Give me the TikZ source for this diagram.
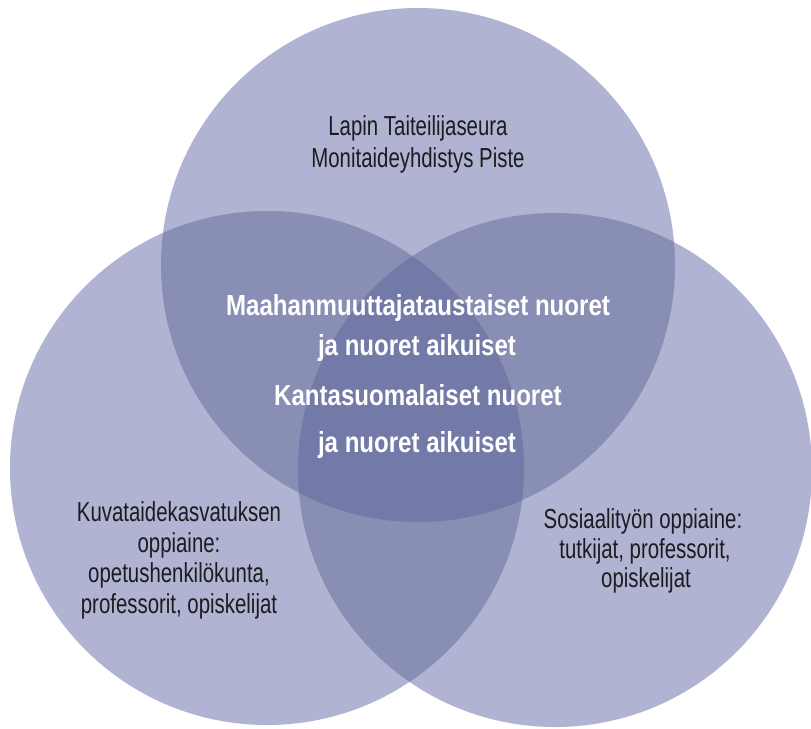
\documentclass[tikz,border=0pt]{standalone}
\usepackage{fontspec}
\setmainfont{Liberation Sans}[FakeStretch=0.742]
\newfontfamily\boldfnt{Liberation Sans}[FakeStretch=0.83]
\definecolor{cone}{RGB}{177,179,210}
\definecolor{ctwo}{RGB}{137,142,181}
\definecolor{cthree}{RGB}{115,122,167}
\definecolor{txt}{RGB}{28,28,32}
\tikzset{
  lbl/.style={anchor=base, inner sep=0pt, text=txt, font=\fontsize{27.5bp}{30bp}\selectfont},
  blbl/.style={anchor=base, inner sep=0pt, text=white, font=\boldfnt\bfseries\fontsize{29bp}{32bp}\selectfont},
}
\begin{document}
\begin{tikzpicture}[x=1bp,y=-1bp]
\clip (0,0) rectangle (811,729);
\coordinate (T) at (418,265);
\coordinate (L) at (267,468);
\coordinate (R) at (555,470);
\def\rr{257bp}
% single
\fill[cone] (T) circle[radius=\rr];
\fill[cone] (L) circle[radius=\rr];
\fill[cone] (R) circle[radius=\rr];
% pairs
\begin{scope}
  \clip (T) circle[radius=\rr];
  \fill[ctwo] (L) circle[radius=\rr];
  \fill[ctwo] (R) circle[radius=\rr];
\end{scope}
\begin{scope}
  \clip (L) circle[radius=\rr];
  \fill[ctwo] (R) circle[radius=\rr];
\end{scope}
% triple
\begin{scope}
  \clip (T) circle[radius=\rr];
  \clip (L) circle[radius=\rr];
  \fill[cthree] (R) circle[radius=\rr];
\end{scope}
% top texts
\node[lbl] (t1) at (418,136) {Lapin Taiteilijaseura};
\node[lbl] (t2) at (418,167) {Monitaideyhdistys Piste};
% center texts
\node[blbl] (c1) at (418,315) {Maahanmuuttajataustaiset nuoret};
\node[blbl] (c2) at (417,355) {ja nuoret aikuiset};
\node[blbl] (c3) at (418,405) {Kantasuomalaiset nuoret};
\node[blbl] (c4) at (417,452) {ja nuoret aikuiset};
% left texts
\node[lbl] (l1) at (179,521) {Kuvataidekasvatuksen};
\node[lbl] (l2) at (179,552) {oppiaine:};
\node[lbl] (l3) at (179,582) {opetushenkilökunta,};
\node[lbl] (l4) at (179,613) {professorit, opiskelijat};
% right texts
\node[lbl] (r1) at (643,528) {Sosiaalityön oppiaine:};
\node[lbl] (r2) at (645,558) {tutkijat, professorit,};
\node[lbl] (r3) at (646,587) {opiskelijat};
\end{tikzpicture}
\end{document}
